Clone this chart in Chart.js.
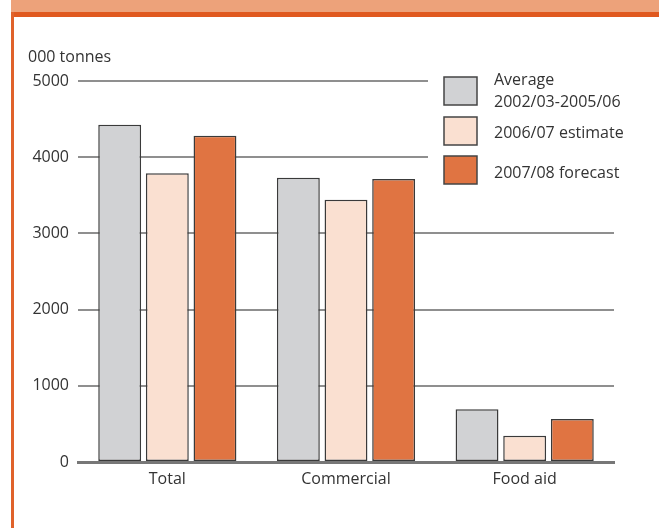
<!DOCTYPE html>
<html>
<head>
<meta charset="utf-8">
<script src="https://cdn.jsdelivr.net/npm/chart.js@4"></script>
<style>
    html, body { margin: 0; padding: 0; background: #fff; }
    #wrap { position: relative; width: 659px; height: 528px; overflow: hidden; }
    #band { position: absolute; left: 11px; top: 0; width: 648px; height: 12px; background: #eda27a; }
    #rule { position: absolute; left: 11px; top: 12px; width: 648px; height: 5px; background: #e0591f; }
    #side { position: absolute; left: 11px; top: 12px; width: 3px; height: 516px; background: #e0622a; }
    canvas { position: absolute; left: 0; top: 0; }
</style>
</head>
<body>
<div id="wrap">
    <canvas id="chart" width="659" height="528"></canvas>
    <div id="band"></div>
    <div id="rule"></div>
    <div id="side"></div>
</div>
<script>
// Datos del gráfico (000 tonnes)
const categories = ['Total', 'Commercial', 'Food aid'];
const seriesNames = [['Average', '2002/03-2005/06'], ['2006/07 estimate'], ['2007/08 forecast']];
const average = [4425, 3730, 692];
const estimate0607 = [3790, 3442, 345];
const forecast0708 = [4280, 3714, 564];
const yTicks = [0, 1000, 2000, 3000, 4000, 5000];
const unitLabel = '000 tonnes';

const fills = ['#d1d2d4', '#fae0d1', '#e07442'];
const FONT = '"Open Sans", "DejaVu Sans", sans-serif';

// Leyenda propia con fondo blanco que tapa la cuadrícula
const legendPlugin = {
    id: 'customLegend',
    afterDraw(chart) {
        const ctx = chart.ctx;
        ctx.save();
        ctx.fillStyle = '#fff';
        ctx.fillRect(428, 64, 200, 130);

        // Unidad arriba del eje
        ctx.fillStyle = '#333';
        ctx.font = '16px ' + FONT;
        ctx.textBaseline = 'middle';
        ctx.textAlign = 'left';
        ctx.fillText(unitLabel, 28, 57);

        const boxes = [77, 117, 156];
        const textY = [[80, 102], [133], [173]];
        seriesNames.forEach((lines, i) => {
            ctx.fillStyle = fills[i];
            ctx.fillRect(444, boxes[i], 33, 28);
            ctx.strokeStyle = '#444';
            ctx.lineWidth = 1.5;
            ctx.strokeRect(444, boxes[i], 33, 28);
            ctx.fillStyle = '#333';
            lines.forEach((t, j) => ctx.fillText(t, 494, textY[i][j]));
        });
        ctx.restore();
    }
};

const mkSet = (label, data, i) => ({
    label: label,
    data: data,
    backgroundColor: fills[i],
    borderColor: '#3a3a3a',
    borderWidth: 1.5,
    borderSkipped: false,
    categoryPercentage: 0.8,
    barPercentage: 0.9,
});

new Chart(document.getElementById('chart').getContext('2d'), {
    type: 'bar',
    data: {
        labels: categories,
        datasets: [
            mkSet(seriesNames[0].join(' '), average, 0),
            mkSet(seriesNames[1][0], estimate0607, 1),
            mkSet(seriesNames[2][0], forecast0708, 2),
        ],
    },
    options: {
        responsive: false,
        animation: false,
        devicePixelRatio: 1,
        layout: { padding: { left: 0, right: 45, top: 81, bottom: 36 } },
        plugins: {
            legend: { display: false },
            tooltip: { enabled: false },
        },
        scales: {
            y: {
                min: 0,
                max: 5000,
                afterFit(scale) { scale.width = 78; },
                afterBuildTicks(scale) { scale.ticks = yTicks.map(v => ({ value: v })); },
                ticks: {
                    color: '#333',
                    font: { family: FONT, size: 16 },
                    padding: 9,
                    callback: v => String(v),
                },
                grid: { color: '#8f8f8f', lineWidth: 2, drawTicks: false },
                border: { display: false },
            },
            x: {
                afterFit(scale) { scale.height = 30; },
                ticks: {
                    color: '#333',
                    font: { family: FONT, size: 16 },
                    padding: 8,
                },
                grid: { display: false, drawTicks: false },
                border: { color: '#777', width: 3 },
            },
        },
    },
    plugins: [legendPlugin],
});
</script>
</body>
</html>
